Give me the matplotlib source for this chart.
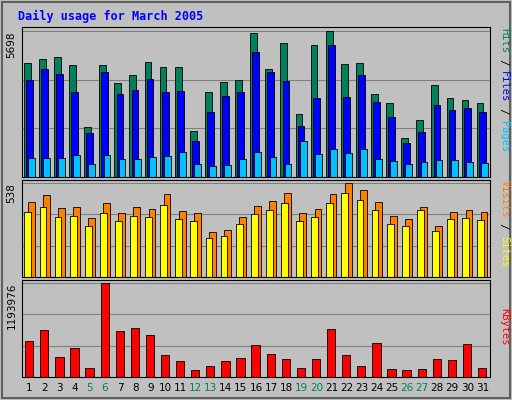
import matplotlib
matplotlib.use("Agg")
import matplotlib.pyplot as plt
from matplotlib.patches import Rectangle

days = list(range(1, 32))
weekends = [5, 6, 12, 13, 19, 20, 26, 27]
hits = [4449,4605,4683,4371,1951,4371,3669,3981,4488,4293,4293,1795,3317,3708,3786,5620,
        4215,5230,2459,5152,5698,4410,4449,3239,2888,1522,2225,3591,3083,3005,2888]
files = [3786,4215,4020,3317,1717,4098,3239,3396,3825,3317,3356,1405,2537,3161,3317,4879,
         4098,3747,1990,3083,5152,3122,3981,2927,2342,1327,1756,2810,2615,2693,2537]
pages = [741,741,741,859,507,859,702,702,780,820,976,507,429,468,702,976,
         780,507,1405,898,1093,937,1093,702,624,507,585,663,663,585,546]
visits = [430,466,395,401,335,425,365,401,389,472,377,365,257,269,341,407,
          437,478,365,389,472,538,496,430,347,329,401,293,371,383,371]
sites = [370,400,340,350,290,365,320,350,340,410,330,320,225,235,300,360,
         380,420,320,340,420,480,440,380,300,290,380,260,330,335,325]
kbytes = [459000,590000,249000,367000,118000,1193976,577000,617000,538000,276000,197000,92000,
          144000,197000,236000,407000,289000,223000,118000,223000,604000,276000,144000,433000,
          105000,92000,105000,223000,210000,420000,118000]

BG = "#c0c0c0"
fig = plt.figure(figsize=(5.12, 4.0), dpi=100, facecolor=BG)
fig.patches.append(Rectangle((0.004, 0.004), 0.992, 0.992, transform=fig.transFigure,
                             fill=False, edgecolor="#606060", lw=1.5))
fig.text(0.035, 0.96, "Daily usage for March 2005", color="#0000ff", family="DejaVu Sans Mono",
         fontsize=8.5, fontweight="bold", va="center")

def panel(rect, series, colors, offsets, width, vmax, label):
    ax = fig.add_axes(rect, facecolor=BG)
    top = vmax * 1.03
    for y in (vmax / 3, 2 * vmax / 3, vmax):
        ax.axhline(y, color="#808080", lw=0.8, zorder=0)
    for s, c, off in zip(series, colors, offsets):
        ax.bar([d + off for d in days], s, width=width, align="edge", color=c,
               edgecolor="black", lw=0.6, zorder=2)
    ax.set_xlim(0.5, 31.5)
    ax.set_ylim(0, top)
    ax.set_xticks([]); ax.set_yticks([])
    for sp in ax.spines.values():
        sp.set_color("black"); sp.set_linewidth(0.8)
    ax.text(-0.012, vmax / top, str(label), transform=ax.transAxes, rotation=90,
            ha="right", va="top", fontsize=7.5)
    return ax

panel([0.043, 0.5575, 0.914, 0.375], [hits, files, pages], ["#00805c", "#0000ff", "#00c0ff"],
      [-0.38, -0.24, -0.1], 0.45, 5698, 5698)
panel([0.043, 0.3075, 0.914, 0.2425], [visits, sites], ["#ff8000", "#ffff00"],
      [-0.12, -0.34], 0.45, 538, 538)
panel([0.043, 0.0575, 0.914, 0.2425], [kbytes], ["#ff0000"],
      [-0.3], 0.55, 1193976, 1193976)

for d in days:
    x = 0.043 + 0.914 * (d - 0.5) / 31
    fig.text(x, 0.03, str(d), ha="center", va="center", fontsize=7.5,
             color="#00805c" if d in weekends else "black")

def side_labels(ytop, parts):
    y = ytop
    for txt, col in parts:
        fig.text(0.985, y, txt, rotation=270, ha="center", va="top", color=col,
                 fontsize=7.5, family="DejaVu Sans Mono")
        y -= 0.0155 * len(txt)

side_labels(0.93, [("Hits", "#00805c"), (" / ", "black"), ("Files", "#0000ff"),
                   (" / ", "black"), ("Pages", "#00c0ff")])
side_labels(0.55, [("Visits", "#ff8000"), (" / ", "black"), ("Sites", "#ffff00")])
side_labels(0.23, [("KBytes", "#ff0000")])

fig.savefig("out.png", dpi=100, facecolor=BG)
